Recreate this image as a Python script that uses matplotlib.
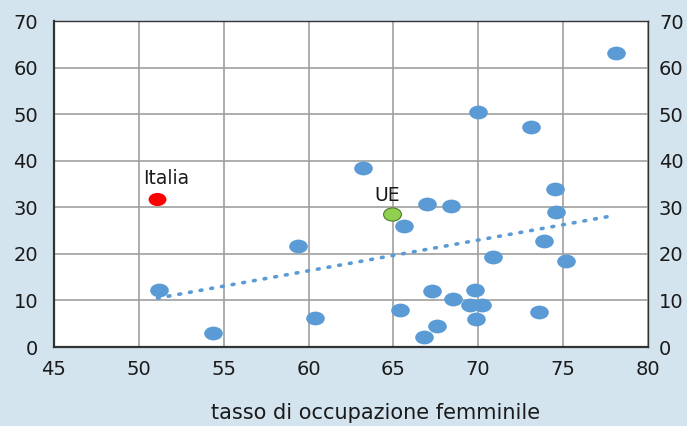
import numpy as np
import matplotlib
matplotlib.use("Agg")
import matplotlib.pyplot as plt
from matplotlib.path import Path
from matplotlib.transforms import Affine2D

# tasso di occupazione femminile (x) vs indicatore (y) per paese
paesi_x = [51.2, 54.4, 59.4, 60.4, 63.2, 65.6, 65.4, 67.0, 67.3, 66.8, 67.6, 68.4, 68.5,
           69.8, 69.5, 70.2, 69.9, 70.0, 70.9, 73.1, 73.6, 73.9, 74.5, 74.6, 75.2, 78.1]
paesi_y = [12.2, 3.0, 21.7, 6.2, 38.4, 26.0, 7.9, 30.7, 12.0, 2.1, 4.5, 30.3, 10.3,
           12.2, 9.0, 9.0, 6.0, 50.5, 19.3, 47.2, 7.5, 22.8, 33.9, 29.0, 18.5, 63.1]
italia = (51.1, 31.8)
ue = (64.9, 28.6)
trend_x = [51.1, 77.8]
trend_y = [10.5, 28.1]

BG = "#d3e4ee"
BLUE = "#5b9bd5"
TXT = "#1a1a1a"
FONT = "DejaVu Sans"

# ellipse-shaped marker (dots in the original are wider than tall)
ell = Affine2D().scale(1.0, 0.74).transform_path(Path.unit_circle())

fig = plt.figure(figsize=(6.87, 4.26), dpi=100, facecolor=BG)
ax = fig.add_axes([0.0786, 0.1854, 0.8644, 0.7653])
ax.set_facecolor("white")

ax.plot(trend_x, trend_y, color=BLUE, lw=2.6, ls=(0, (0.5, 2.5)),
        dash_capstyle="round", zorder=2)
ax.scatter(paesi_x, paesi_y, s=180, marker=ell, color=BLUE, linewidths=0, zorder=3)
ax.scatter([italia[0]], [italia[1]], s=165, marker=ell, color="#ff0000",
           linewidths=0, zorder=4)
ax.scatter([ue[0]], [ue[1]], s=165, marker=ell, color="#8fd14f",
           edgecolors="#4f7a2a", linewidths=0.8, zorder=4)

ax.text(italia[0] - 0.85, italia[1] + 2.3, "Italia", fontsize=13.5, ha="left",
        va="bottom", color=TXT, family=FONT)
ax.text(ue[0] - 1.0, ue[1] + 1.9, "UE", fontsize=13.5, ha="left",
        va="bottom", color=TXT, family=FONT)

ax.set_xlim(45, 80)
ax.set_ylim(0, 70)
ax.set_xticks(range(45, 81, 5))
ax.set_yticks(range(0, 71, 10))
ax.grid(True, color="#a0a0a0", lw=1.2)
ax.set_axisbelow(True)

for s in ax.spines.values():
    s.set_color("#333333")
    s.set_linewidth(1.0)
ax.spines["left"].set_linewidth(1.6)
ax.spines["bottom"].set_linewidth(1.6)

ax.tick_params(axis="y", length=0, labelsize=14, colors=TXT, pad=11.5)
ax.tick_params(axis="x", length=0, labelsize=14, colors=TXT, pad=9)

# right-hand copy of the y labels
ax2 = ax.twinx()
ax2.set_ylim(ax.get_ylim())
ax2.set_yticks(range(0, 71, 10))
ax2.tick_params(axis="y", length=0, labelsize=14, colors=TXT, pad=8)
for s in ax2.spines.values():
    s.set_visible(False)

for lab in ax.get_xticklabels() + ax.get_yticklabels() + ax2.get_yticklabels():
    lab.set_family(FONT)

fig.text(0.547, 0.030, "tasso di occupazione femminile", fontsize=15,
         ha="center", va="center", color=TXT, family=FONT)

fig.savefig("out.png", dpi=100, facecolor=BG)
